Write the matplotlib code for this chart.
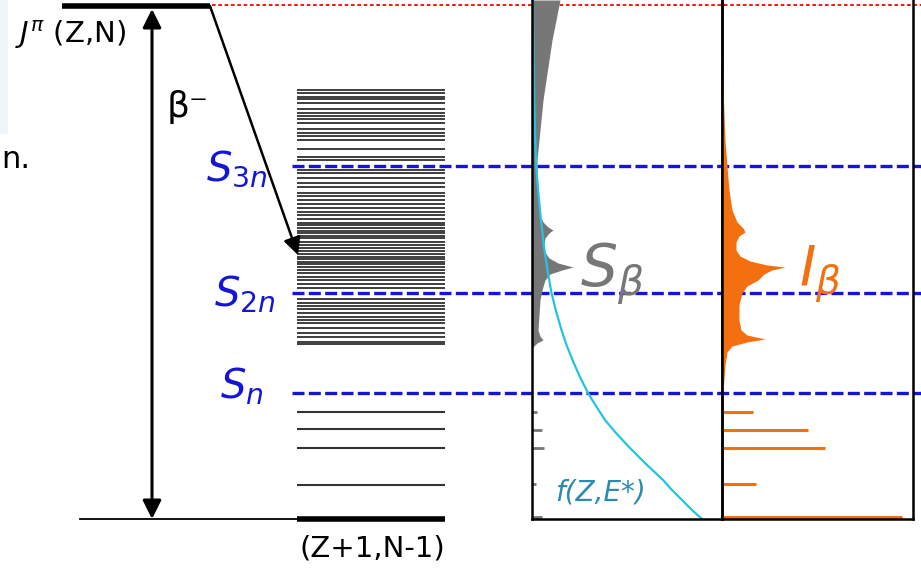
import matplotlib
matplotlib.use("Agg")
import matplotlib.pyplot as plt
import numpy as np

plt.rcParams['font.family'] = ['DejaVu Sans']
plt.rcParams['mathtext.fontset'] = 'dejavusans'

# ---------------- data (energy units, ground state = 0) ----------------
Q_value = 513
S3n, S2n, Sn = 353, 226, 126
thresholds = [S3n, S2n, Sn]
threshold_labels = ["$S_{3n}$", "$S_{2n}$", "$S_{n}$"]

band_levels = [429, 426, 422, 420, 416, 410, 406, 403, 400, 396, 390, 386, 383,
               379, 370, 362, 359, 349, 346, 341, 336, 332, 326, 323, 319, 315,
               311, 307, 304, 300, 296, 294, 291, 288, 286, 283, 281, 277, 274,
               271, 268, 265, 262, 260, 257, 255, 252, 249, 246, 242,
               239, 235, 231, 220, 216, 213, 210, 206, 202, 199, 196, 191, 186,
               182, 177, 175]
discrete_levels = [107, 90, 71, 34]
ground_level = 0

# S_beta strength profile (energy, strength)
sb_E = [519, 499, 479, 459, 439, 419, 399, 379, 359, 339, 319, 304, 297, 292,
        289, 286, 281, 274, 267, 261, 256, 252, 249, 245, 239, 229, 219, 204,
        189, 183, 179, 176, 172, 169]
sb_S = [28, 24, 20, 17, 14, 11, 9, 7, 5, 5, 6, 8, 11, 16,
        21, 17, 13, 12, 13, 17, 26, 41, 30, 18, 13, 10, 8, 7,
        6, 8, 11, 5, 1, 0]
sb_disc_E = [107, 89, 71, 35, 2]
sb_disc_S = [5, 10, 12, 4, 10]

# I_beta intensity profile (energy, intensity)
ib_E = [469, 419, 379, 353, 329, 309, 297, 291, 287, 283, 277, 269, 263, 258,
        254, 252, 249, 245, 239, 233, 226, 214, 199, 189, 184, 180, 177, 173,
        167, 154, 126, 119]
ib_I = [0.5, 1.5, 3, 5, 7, 10, 15, 21, 23, 17, 14, 14, 18, 28,
        45, 63, 50, 42, 36, 25, 20, 17, 17, 19, 25, 43, 25, 10,
        5, 3, 1, 0]
ib_disc_E = [107, 89, 71, 35, 2]
ib_disc_I = [31, 86, 103, 34, 180]

# Fermi function f(Z,E*) (energy, value)
f_E = [519, 494, 469, 444, 419, 386, 353, 336, 319, 303, 286, 272, 259, 243,
       226, 208, 189, 174, 159, 143, 126, 113, 99, 86, 72, 56, 39, 29, 19, 9, 0]
f_V = [1, 1.2, 1.5, 1.8, 2.2, 3, 4.2, 5.5, 7, 8.5, 10.5, 12, 14, 16.5,
       19.5, 24, 29.5, 34.5, 40.5, 47.5, 56, 64, 73, 84, 97, 113, 131, 140,
       150, 160, 170]

# ---------------- figure ----------------
W, H = 921, 568
fig = plt.figure(figsize=(W / 100, H / 100), dpi=100)
ax = fig.add_axes([0, 0, 1, 1])
ax.set_xlim(0, W)
ax.set_ylim(-49, 519)
ax.axis('off')

BLUE = '#1515d5'
ORANGE = '#f4700e'
GRAY = '#777777'
CYAN = '#22c4e4'
TEAL = '#2a8db0'

# faint background artifact at the left edge
ax.add_patch(plt.Rectangle((0, 385), 8, 134, color='#eef5fa', lw=0, zorder=0))
ax.text(1, 359, "n.", fontsize=22, ha='left', va='center', color='black')

# parent level
ax.plot([62, 210], [Q_value, Q_value], color='black', lw=4, solid_capstyle='butt')
ax.text(15, 484, "$J^{\\pi}$ (Z,N)", fontsize=21, ha='left', va='center')

# Q-value reference line
ax.plot([212, W], [Q_value + 1, Q_value + 1], color='red', lw=1.3,
        linestyle=(0, (2, 1.5)))

# double arrow (Q-beta)
ax.annotate("", xy=(152, Q_value - 3), xytext=(152, ground_level),
            arrowprops=dict(arrowstyle='<|-|>', color='black', lw=2.2,
                            mutation_scale=28, shrinkA=0, shrinkB=0))
ax.text(188, 412, "β⁻", fontsize=26, ha='center', va='center')

# beta decay arrow
ax.annotate("", xy=(298, 264), xytext=(210, Q_value),
            arrowprops=dict(arrowstyle='-|>', color='black', lw=1.8,
                            mutation_scale=26, shrinkA=0, shrinkB=0))

# daughter levels
for e in band_levels:
    ax.plot([297, 445], [e, e], color='#1e1e1e', lw=1.2, solid_capstyle='butt')
for e in discrete_levels:
    ax.plot([297, 445], [e, e], color='#333333', lw=1.5, solid_capstyle='butt')
ax.plot([80, 297], [ground_level, ground_level], color='black', lw=1.3)
ax.plot([297, 445], [ground_level, ground_level], color='black', lw=4,
        solid_capstyle='butt')
ax.text(372, -29, "(Z+1,N-1)", fontsize=21, ha='center', va='center')

# neutron thresholds
for e in thresholds:
    ax.plot([292, W], [e, e], color=BLUE, lw=2.4, linestyle=(0, (3.6, 1.3)),
            zorder=5)
ax.text(237, 350, threshold_labels[0], fontsize=29, color=BLUE, ha='center', va='center')
ax.text(245, 224, threshold_labels[1], fontsize=29, color=BLUE, ha='center', va='center')
ax.text(242, 132, threshold_labels[2], fontsize=29, color=BLUE, ha='center', va='center')

# ---------------- panels ----------------
def panel(x0, x1):
    a = fig.add_axes([x0 / W, 49 / H, (x1 - x0) / W, 519 / H])
    a.set_xlim(0, x1 - x0)
    a.set_ylim(0, 519)
    a.patch.set_alpha(0)
    a.set_xticks([])
    a.set_yticks([])
    a.spines['top'].set_visible(False)
    for s in ['left', 'right', 'bottom']:
        a.spines[s].set_linewidth(1.8)
    return a

axS = panel(532, 722)
axS.fill_betweenx(sb_E, 0, sb_S, color=GRAY, lw=0)
for e, s in zip(sb_disc_E, sb_disc_S):
    axS.plot([0, s], [e, e], color=GRAY, lw=2, solid_capstyle='butt')
axS.plot(f_V, f_E, color=CYAN, lw=1.6)
axS.text(80, 245, "$S_{\\beta}$", fontsize=42, color=GRAY, ha='center', va='center')
axS.text(68, 27, "f(Z,E*)", fontsize=20, color=TEAL, style='italic',
         ha='center', va='center')

axI = panel(722, 913)
axI.fill_betweenx(ib_E, 0, ib_I, color=ORANGE, lw=0)
for e, i in zip(ib_disc_E, ib_disc_I):
    axI.plot([0, i], [e, e], color=ORANGE, lw=2.2, solid_capstyle='butt')
axI.text(98, 245, "$I_{\\beta}$", fontsize=40, color=ORANGE, ha='center', va='center')

fig.savefig("out.png", dpi=100)
